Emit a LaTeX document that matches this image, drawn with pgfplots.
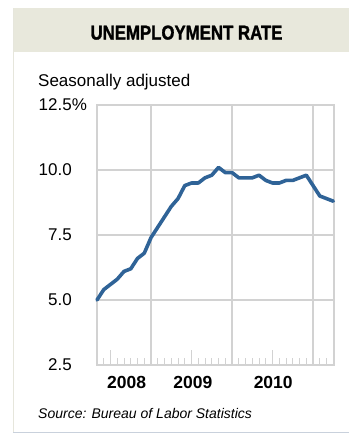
\documentclass[border=0pt]{standalone}
\usepackage{graphicx}
\usepackage{fontspec}
\setmainfont{Liberation Sans}
\newfontfamily\titlefont{Liberation Sans}[BoldFeatures={FakeBold=1.6}]
\usepackage{pgfplots}
\pgfplotsset{compat=1.18}
\definecolor{band}{HTML}{E8E8DC}
\definecolor{gridc}{HTML}{D2D2D2}
\definecolor{linec}{HTML}{2F6397}
\definecolor{edge}{HTML}{E6E6DC}
\definecolor{bottomedge}{HTML}{C9D1DC}
\begin{document}
\begin{tikzpicture}[x=1pt,y=1pt]
\useasboundingbox (0,0) rectangle (349,-434);
\fill[white] (0,0) rectangle (349,-434);
\fill[band] (13,-8) rectangle (349,-52);
\draw[edge, line width=1pt] (13.5,-8) -- (13.5,-432);
\draw[bottomedge, line width=1pt] (13,-432) -- (349,-432);
\node[anchor=base, inner sep=0pt] at (186.5,-39.5) {\scalebox{0.84}[1]{\fontsize{20}{23}\titlefont\bfseries UNEMPLOYMENT RATE}};
\node[anchor=base west, inner sep=0pt] at (38,-86) {\fontsize{17}{20}\selectfont Seasonally adjusted};
\node[anchor=base west, inner sep=0pt] at (38,-418) {\fontsize{14}{17}\selectfont\itshape Source: Bureau of Labor Statistics};
\begin{axis}[
  at={(97pt,-365pt)}, anchor=south west,
  scale only axis, width=237pt, height=260pt,
  xmin=0, xmax=35.1, ymin=2.5, ymax=12.5,
  axis line style={gridc, line width=1.2pt},
  tick align=inside,
  xtick pos=bottom, ytick pos=left,
  xtick={2,14,26}, xticklabels={},
  major tick length=15pt,
  minor xtick={1,...,34},
  minor tick length=7pt,
  tick style={gridc, line width=1pt},
  extra x ticks={8,20,32}, extra x tick labels={},
  extra x tick style={grid=major, major tick length=0pt},
  grid style={gridc, line width=1.2pt},
  ytick={2.5,5,7.5,10,12.5},
  yticklabels={2.5,5.0,7.5,10.0,12.5\rlap{\%}},
  ymajorgrids,
  ytick style={draw=none},
  yticklabel style={anchor=east, inner sep=0pt, xshift=-25pt, font=\fontsize{17}{20}\selectfont},
  /pgf/number format/assume math mode=true,
  clip=false,
]
\addplot[linec, line width=3.6pt, line join=round, line cap=round] coordinates {
(0,5.0) (1,5.4) (2,5.6) (3,5.8) (4,6.1) (5,6.2) (6,6.6) (7,6.8) (8,7.4)
(9,7.8) (10,8.2) (11,8.6) (12,8.9) (13,9.4) (14,9.5) (15,9.5) (16,9.7) (17,9.8)
(18,10.1) (19,9.9) (20,9.9) (21,9.7) (22,9.7) (23,9.7) (24,9.8) (25,9.6) (26,9.5)
(27,9.5) (28,9.6) (29,9.6) (30,9.7) (31,9.8) (32,9.4) (33,9.0) (34,8.9) (35,8.8)
};
\node[anchor=base, inner sep=0pt, font=\fontsize{17.5}{20}\selectfont\bfseries] at (axis cs:4.4,2.5) [yshift=-23pt] {2008};
\node[anchor=base, inner sep=0pt, font=\fontsize{17.5}{20}\selectfont\bfseries] at (axis cs:14.2,2.5) [yshift=-23pt] {2009};
\node[anchor=base, inner sep=0pt, font=\fontsize{17.5}{20}\selectfont\bfseries] at (axis cs:26.1,2.5) [yshift=-23pt] {2010};
\end{axis}
\end{tikzpicture}
\end{document}
